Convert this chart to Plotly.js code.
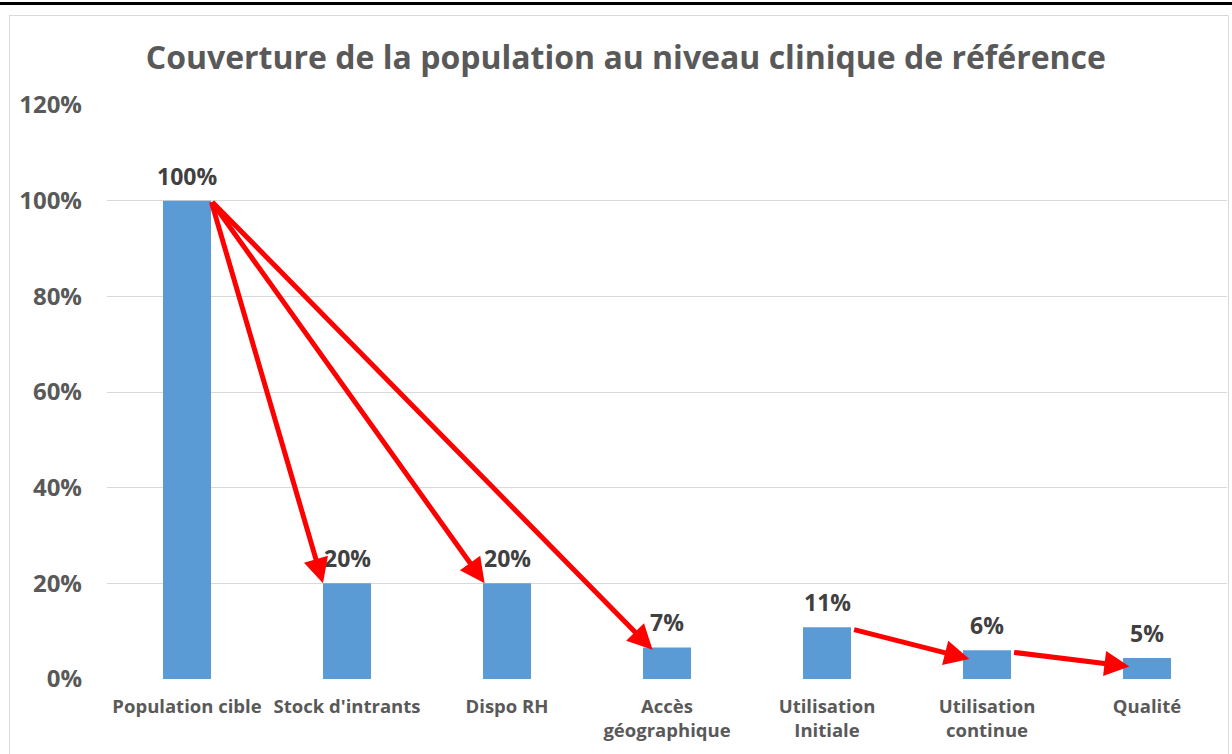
<!DOCTYPE html>
<html>
<head>
<meta charset="utf-8">
<script src="https://cdn.plot.ly/plotly-3.0.1.min.js"></script>
<style>
  html, body { margin: 0; padding: 0; background: #fff; }
  #chart { width: 1232px; height: 754px; }
</style>
</head>
<body>
<div id="chart"></div>
<script>
// ---- data ----
const categories = ["Population cible", "Stock d'intrants", "Dispo RH", "Accès<br>géographique", "Utilisation<br>Initiale", "Utilisation<br>continue", "Qualité"];
const values = [1.00, 0.20, 0.20, 0.066, 0.108, 0.06, 0.044];
const valueLabels = ["100%", "20%", "20%", "7%", "11%", "6%", "5%"];
const yTickVals = [0, 0.2, 0.4, 0.6, 0.8, 1.0, 1.2];
const yTickText = ["0%", "20%", "40%", "60%", "80%", "100%", "120%"];
// arrows: [from category index, to category index]
const arrowPairs = [[0, 1], [0, 2], [0, 3], [4, 5], [5, 6]];

const barWidth = 0.3;
const half = barWidth / 2;
const idx = categories.map((_, i) => i);
const FONT = 'Open Sans, sans-serif';

const trace = {
  type: 'bar',
  x: idx,
  y: values,
  width: barWidth,
  marker: { color: '#5B9BD5' },
  hoverinfo: 'none'
};

// value labels above bars
const labelAnns = idx.map(i => ({
  x: i, y: values[i], xref: 'x', yref: 'y',
  text: valueLabels[i], showarrow: false,
  xanchor: 'center', yanchor: 'bottom', yshift: 7,
  font: { family: FONT, size: 23, color: '#404040', weight: 'bold' }
}));

// arrow endpoints derived from bar geometry
const arrowAnns = arrowPairs.map(([a, b]) => {
  let sx, sy, ex, ey;
  if (a === 0) {
    sx = a + half; sy = values[a];
    if (b === 3) { ex = b - 0.09; ey = values[b] - 0.005; }
    else { ex = b - half + (b === 2 ? 0.01 : 0); ey = values[b]; }
  } else {
    sx = a + half + 0.01; sy = values[a] - 0.004;
    ex = b - half + 0.04; ey = values[b] - 0.018;
  }
  return {
    x: ex, y: ey, ax: sx, ay: sy,
    xref: 'x', yref: 'y', axref: 'x', ayref: 'y',
    text: '', showarrow: true,
    arrowhead: 2, arrowsize: 1.0, arrowwidth: 5,
    arrowcolor: '#FF0000', standoff: 0, startstandoff: 0
  };
});

// frame (paper coords: plot area is x 107..1227, y 105..679 px)
const px = p => (p - 107) / 1120;
const py = p => (679 - p) / 574;
const shapes = [
  { type: 'line', xref: 'paper', yref: 'paper', x0: px(0), x1: px(1232), y0: py(3.5), y1: py(3.5),
    line: { color: '#000', width: 3 }, layer: 'above' },
  { type: 'line', xref: 'paper', yref: 'paper', x0: px(9), x1: px(1228), y0: py(15.5), y1: py(15.5),
    line: { color: '#d9d9d9', width: 1 } },
  { type: 'line', xref: 'paper', yref: 'paper', x0: px(9.5), x1: px(9.5), y0: py(15.5), y1: py(760),
    line: { color: '#d9d9d9', width: 1 } },
  { type: 'line', xref: 'paper', yref: 'paper', x0: px(1228.5), x1: px(1228.5), y0: py(15.5), y1: py(760),
    line: { color: '#d9d9d9', width: 1 } }
];

const layout = {
  width: 1232, height: 754,
  margin: { l: 107, r: 5, t: 105, b: 75 },
  paper_bgcolor: '#fff', plot_bgcolor: '#fff',
  showlegend: false,
  title: {
    text: 'Couverture de la population au niveau clinique de référence',
    font: { family: FONT, size: 32, color: '#595959', weight: 'bold' },
    x: 0.508, xanchor: 'center', y: 0.923, yanchor: 'middle'
  },
  xaxis: {
    type: 'linear',
    range: [-0.5, 6.5],
    tickvals: idx, ticktext: categories,
    showgrid: false, zeroline: false, showline: false, ticks: '',
    tickfont: { family: FONT, size: 18.5, color: '#595959', weight: 'bold' },
    ticklabelstandoff: 14,
    fixedrange: true
  },
  yaxis: {
    range: [0, 1.2],
    tickvals: yTickVals, ticktext: yTickText,
    showgrid: true, gridcolor: '#d9d9d9', gridwidth: 1,
    zeroline: false, showline: false, ticks: '',
    tickfont: { family: FONT, size: 24, color: '#595959', weight: 'bold' },
    ticklabelstandoff: 24,
    fixedrange: true
  },
  annotations: labelAnns.concat(arrowAnns),
  shapes: shapes
};

Plotly.newPlot('chart', [trace], layout, { displayModeBar: false, staticPlot: true });
</script>
</body>
</html>
